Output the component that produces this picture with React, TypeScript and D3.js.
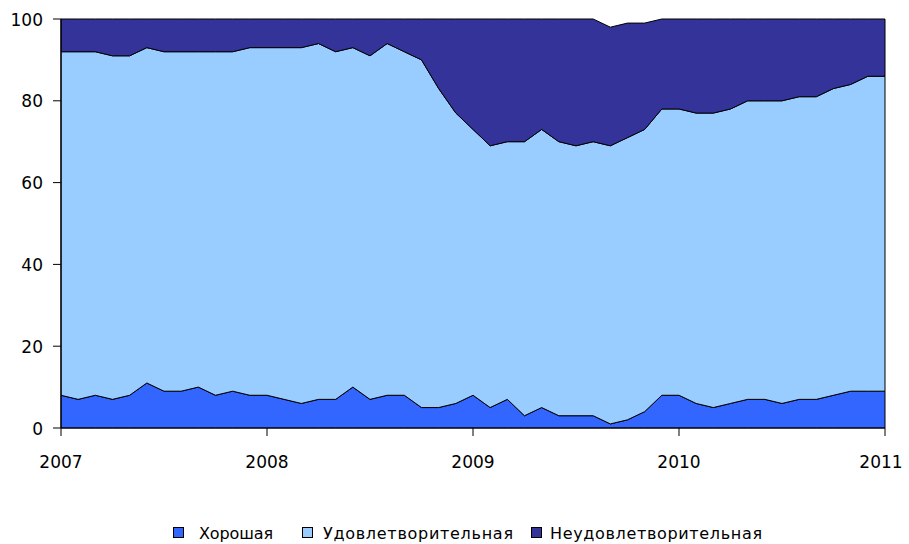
import React from "react";
import * as d3 from "d3";

const years = [2007, 2008, 2009, 2010, 2011];
const yTicks = [0, 20, 40, 60, 80, 100];
const seriesNames = ["Хорошая", "Удовлетворительная", "Неудовлетворительная"];
const seriesColors = ["#3366FF", "#99CCFF", "#333399"];

// monthly, Jan 2007 .. Jan 2011 (49 points)
const good = [8, 7, 8, 7, 8, 11, 9, 9, 10, 8, 9, 8, 8, 7, 6, 7, 7, 10, 7, 8, 8, 5, 5, 6, 8, 5, 7, 3, 5, 3, 3, 3, 1, 2, 4, 8, 8, 6, 5, 6, 7, 7, 6, 7, 7, 8, 9, 9, 9];
const satisfactory = [84, 85, 84, 84, 83, 82, 83, 83, 82, 84, 83, 85, 85, 86, 87, 87, 85, 83, 84, 86, 84, 85, 78, 71, 65, 64, 63, 67, 68, 67, 66, 67, 68, 69, 69, 70, 70, 71, 72, 72, 73, 73, 74, 74, 74, 75, 75, 77, 77];
const bad = [8, 8, 8, 9, 9, 7, 8, 8, 8, 8, 8, 7, 7, 7, 7, 6, 8, 7, 9, 6, 8, 10, 17, 23, 27, 31, 30, 30, 27, 30, 31, 30, 29, 28, 26, 22, 22, 23, 23, 22, 20, 20, 20, 19, 19, 17, 16, 14, 14];

const W = 909;
const H = 544;
const L = 61, R = 885, T = 19, B = 428;

export default function App() {
  const x = d3.scaleLinear().domain([0, 48]).range([L, R]);
  const xYear = d3.scaleLinear().domain([2007, 2011]).range([L, R]);
  const y = d3.scaleLinear().domain([0, 100]).range([B, T]);

  const rows = good.map((g, i) => ({ i, good: g, sat: satisfactory[i], bad: bad[i] }));
  const stack = d3.stack<any>().keys(["good", "sat", "bad"]);
  const layers = stack(rows);
  const area = d3
    .area<any>()
    .x((d) => x(d.data.i))
    .y0((d) => y(d[0]))
    .y1((d) => y(d[1]));

  const font = "'DejaVu Sans', Verdana, sans-serif";
  const legend = [
    { sx: 173, tx: 199, len: 74 },
    { sx: 302, tx: 323, len: 190 },
    { sx: 531, tx: 550, len: 212 },
  ];

  return (
    <svg width={W} height={H} style={{ position: "absolute", left: 0, top: 0 }}>
      <rect x={0} y={0} width={W} height={H} fill="#fff" />
      {layers.map((layer, k) => (
        <path key={k} d={area(layer as any) || ""} fill={seriesColors[k]} stroke="#000" strokeWidth={1} strokeLinejoin="round" />
      ))}
      {/* axes */}
      <line x1={L} x2={L} y1={T} y2={B} stroke="#000" strokeWidth={1.2} />
      <line x1={L} x2={R} y1={B} y2={B} stroke="#000" strokeWidth={1.2} />
      {yTicks.map((t) => (
        <g key={t}>
          <line x1={L - 8} x2={L} y1={y(t)} y2={y(t)} stroke="#000" strokeWidth={1} />
          <text x={43} y={y(t) + 6.5} textAnchor="end" fontFamily={font} fontSize={17} fill="#000">
            {t}
          </text>
        </g>
      ))}
      {years.map((yr, k) => (
        <g key={yr}>
          <line x1={xYear(yr)} x2={xYear(yr)} y1={B} y2={B + 8} stroke="#000" strokeWidth={1} />
          <text x={k === years.length - 1 ? xYear(yr) - 4 : xYear(yr)} y={468} textAnchor="middle" fontFamily={font} fontSize={17} fill="#000">
            {yr}
          </text>
        </g>
      ))}
      {seriesNames.map((n, k) => (
        <g key={n}>
          <rect x={legend[k].sx + 0.5} y={527.5} width={10} height={10} fill={seriesColors[k]} stroke="#000" strokeWidth={1} />
          <text x={legend[k].tx} y={538.5} fontFamily={font} fontSize={16} fill="#000" textLength={legend[k].len} lengthAdjust="spacing">
            {n}
          </text>
        </g>
      ))}
    </svg>
  );
}
